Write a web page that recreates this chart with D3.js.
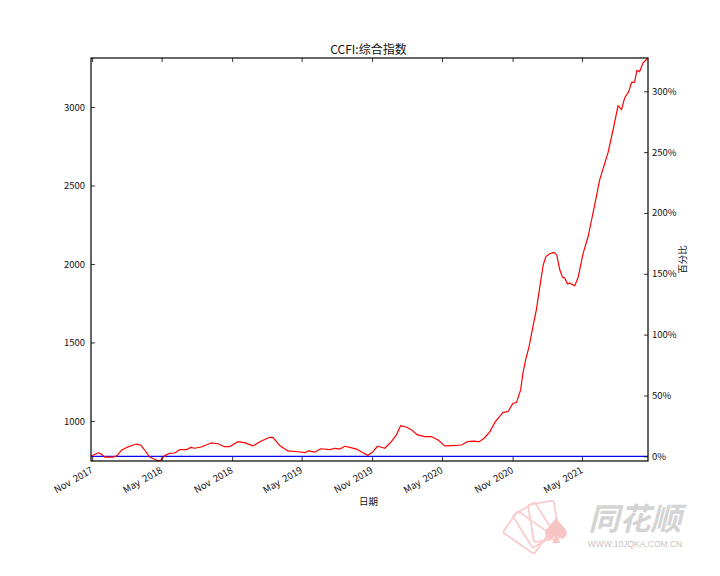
<!DOCTYPE html>
<html>
<head>
<meta charset="utf-8">
<script src="https://cdn.jsdelivr.net/npm/d3@7/dist/d3.min.js"></script>
<style>
  html, body { margin: 0; padding: 0; background: #fff; }
  svg { display: block; font-family: "Noto Sans CJK SC", "DejaVu Sans", sans-serif; }
</style>
</head>
<body>
<svg id="chart" width="720" height="576"></svg>
<script>
// ---- data ----
const dates = ["2017-10-29","2017-11-17","2017-11-25","2017-12-04","2017-12-25","2018-01-05","2018-01-16","2018-01-29","2018-02-11","2018-02-24",
"2018-03-07","2018-03-18","2018-03-31","2018-04-13","2018-04-22","2018-04-30","2018-05-09","2018-05-22","2018-06-04","2018-06-17",
"2018-07-04","2018-07-17","2018-07-26","2018-08-12","2018-09-07","2018-09-25","2018-10-12","2018-10-25","2018-11-16","2018-12-03",
"2018-12-25","2019-01-16","2019-02-07","2019-02-16","2019-03-05","2019-03-26","2019-04-22","2019-05-10","2019-05-18","2019-06-05",
"2019-06-20","2019-07-14","2019-07-27","2019-08-09","2019-08-22","2019-09-04","2019-09-21","2019-10-08","2019-10-21","2019-11-03",
"2019-11-15","2019-12-04","2019-12-21","2020-01-03","2020-01-14","2020-01-30","2020-02-12","2020-02-27","2020-03-17","2020-04-04",
"2020-04-21","2020-05-08","2020-05-26","2020-06-21","2020-07-06","2020-07-21","2020-08-05","2020-08-19","2020-09-03","2020-09-16",
"2020-10-07","2020-10-20","2020-11-02","2020-11-11","2020-11-22","2020-11-28","2020-12-05","2020-12-14","2020-12-24","2021-01-02",
"2021-01-11","2021-01-20","2021-01-27","2021-02-06","2021-02-17","2021-02-24","2021-03-04","2021-03-11","2021-03-17","2021-03-24",
"2021-03-30","2021-04-12","2021-04-21","2021-05-04","2021-05-17","2021-06-03","2021-06-16","2021-07-08","2021-07-21","2021-08-03",
"2021-08-12","2021-08-20","2021-08-31","2021-09-07","2021-09-15","2021-09-21","2021-09-28","2021-10-07","2021-10-20"];

const ccfi = [775,798,788,770,770,779,813,830,842,853,
847,815,770,756,745,753,779,794,796,817,
817,832,826,834,860,855,836,836,868,862,
841,872,896,894,843,809,804,798,809,802,
823,817,826,821,839,832,821,798,781,804,
839,826,868,911,970,960,943,911,900,900,
879,841,843,847,868,872,868,890,932,992,
1055,1059,1113,1117,1198,1304,1389,1474,1601,1708,
1856,1995,2048,2065,2074,2058,1963,1916,1910,1873,
1878,1861,1916,2069,2175,2377,2536,2711,2855,3008,
2983,3057,3099,3157,3157,3233,3225,3281,3312];

const leftTicks = [1000, 1500, 2000, 2500, 3000];
const rightTicks = [0, 50, 100, 150, 200, 250, 300];
const titleText = "CCFI:综合指数";
const xLabelText = "日期";
const yRightLabelText = "百分比";

// ---- layout ----
const svg = d3.select("#chart");
const W = 720, H = 576;
const m = { left: 91, right: 648, top: 58, bottom: 461 };

svg.append("rect").attr("width", W).attr("height", H).attr("fill", "#fff");

const parse = d3.timeParse("%Y-%m-%d");
const data = dates.map((d, i) => ({ date: parse(d), value: ccfi[i] }));
const base = data[0].value;

const x = d3.scaleTime()
  .domain(d3.extent(data, d => d.date))
  .range([m.left, m.right]);

const vMin = d3.min(data, d => d.value), vMax = d3.max(data, d => d.value);
const y = d3.scaleLinear().domain([vMin, vMax]).range([m.bottom, m.top]);
const yPct = d3.scaleLinear()
  .domain([(vMin / base - 1) * 100, (vMax / base - 1) * 100])
  .range([m.bottom, m.top]);

// ---- watermark ----
const wm = svg.append("g").attr("class", "watermark");
const logo = wm.append("g").attr("transform", "translate(548,548)");
[-55, -32, -9].forEach(a => {
  logo.append("rect")
    .attr("x", -13).attr("y", -46).attr("width", 26).attr("height", 38)
    .attr("rx", 2)
    .attr("fill", "none").attr("stroke", "#f8cccc").attr("stroke-width", 1.8)
    .attr("transform", `rotate(${a})`);
});
const spade = wm.append("g").attr("transform", "translate(556,533)").attr("fill", "#f7c4c4");
spade.append("path").attr("d", "M0,-15 L-10,-3 A5.2,5.2 0 0,0 -1,3 L-4,10 L4,10 L1,3 A5.2,5.2 0 0,0 10,-3 Z");
wm.append("text").attr("x", 635).attr("y", 530).attr("text-anchor", "middle")
  .attr("font-size", 31).attr("font-weight", "bold").attr("font-style", "italic")
  .attr("fill", "#d4d4d4").text("同花顺");
wm.append("text").attr("x", 635).attr("y", 547).attr("text-anchor", "middle")
  .attr("font-size", 8.5).attr("fill", "#c4c4c4").attr("font-family", "Liberation Sans, Arial, sans-serif")
  .text("WWW.10JQKA.COM.CN");

// ---- lines ----
const g = svg.append("g");
g.append("line")
  .attr("x1", m.left).attr("x2", m.right)
  .attr("y1", y(base)).attr("y2", y(base))
  .attr("stroke", "#0000ff").attr("stroke-width", 1.2);

const line = d3.line().x(d => x(d.date)).y(d => y(d.value));
g.append("path").datum(data)
  .attr("d", line)
  .attr("fill", "none").attr("stroke", "#ff0000").attr("stroke-width", 1.2)
  .attr("stroke-linejoin", "round");

// ---- axes ----
const monthTicks = d3.timeMonth.filter(d => d.getMonth() % 6 === 4);
const fmt = d3.timeFormat("%b  %Y");

const axB = svg.append("g").attr("transform", `translate(0,${m.bottom})`)
  .call(d3.axisBottom(x).ticks(monthTicks).tickFormat(fmt).tickSize(-4).tickSizeOuter(0));
axB.selectAll("text")
  .attr("y", 0).attr("dy", 0).attr("x", 0)
  .attr("text-anchor", "end")
  .attr("transform", "translate(1,11) rotate(-30)")
  .style("white-space", "pre");

svg.append("g").attr("transform", `translate(0,${m.top})`)
  .call(d3.axisTop(x).ticks(monthTicks).tickFormat("").tickSize(-4).tickSizeOuter(0));

svg.append("g").attr("transform", `translate(${m.left},0)`)
  .call(d3.axisLeft(y).tickValues(leftTicks).tickFormat(d3.format("d")).tickSize(-4).tickPadding(6).tickSizeOuter(0));

svg.append("g").attr("transform", `translate(${m.right},0)`)
  .call(d3.axisRight(yPct).tickValues(rightTicks).tickFormat(d => d + "%").tickSize(-4).tickPadding(4).tickSizeOuter(0));

svg.selectAll(".domain").remove();
svg.selectAll(".tick line").attr("stroke", "#000").attr("stroke-width", 0.8);
svg.selectAll(".tick text").attr("font-size", 9.5).attr("fill", "#111")
  .attr("font-family", "'Noto Sans CJK SC', sans-serif");

// frame
svg.append("rect")
  .attr("x", m.left).attr("y", m.top)
  .attr("width", m.right - m.left).attr("height", m.bottom - m.top)
  .attr("fill", "none").attr("stroke", "#000").attr("stroke-width", 1.2);

// ---- texts ----
svg.append("text").attr("x", (m.left + m.right) / 2 - 1).attr("y", 54)
  .attr("text-anchor", "middle").attr("font-size", 12).attr("fill", "#111").text(titleText);
svg.append("text").attr("x", (m.left + m.right) / 2 - 1).attr("y", 505)
  .attr("text-anchor", "middle").attr("font-size", 9.5).attr("fill", "#111").text(xLabelText);
svg.append("text")
  .attr("transform", `translate(686,${(m.top + m.bottom) / 2}) rotate(-90)`)
  .attr("text-anchor", "middle").attr("font-size", 9.5).attr("fill", "#111").text(yRightLabelText);
</script>
</body>
</html>
